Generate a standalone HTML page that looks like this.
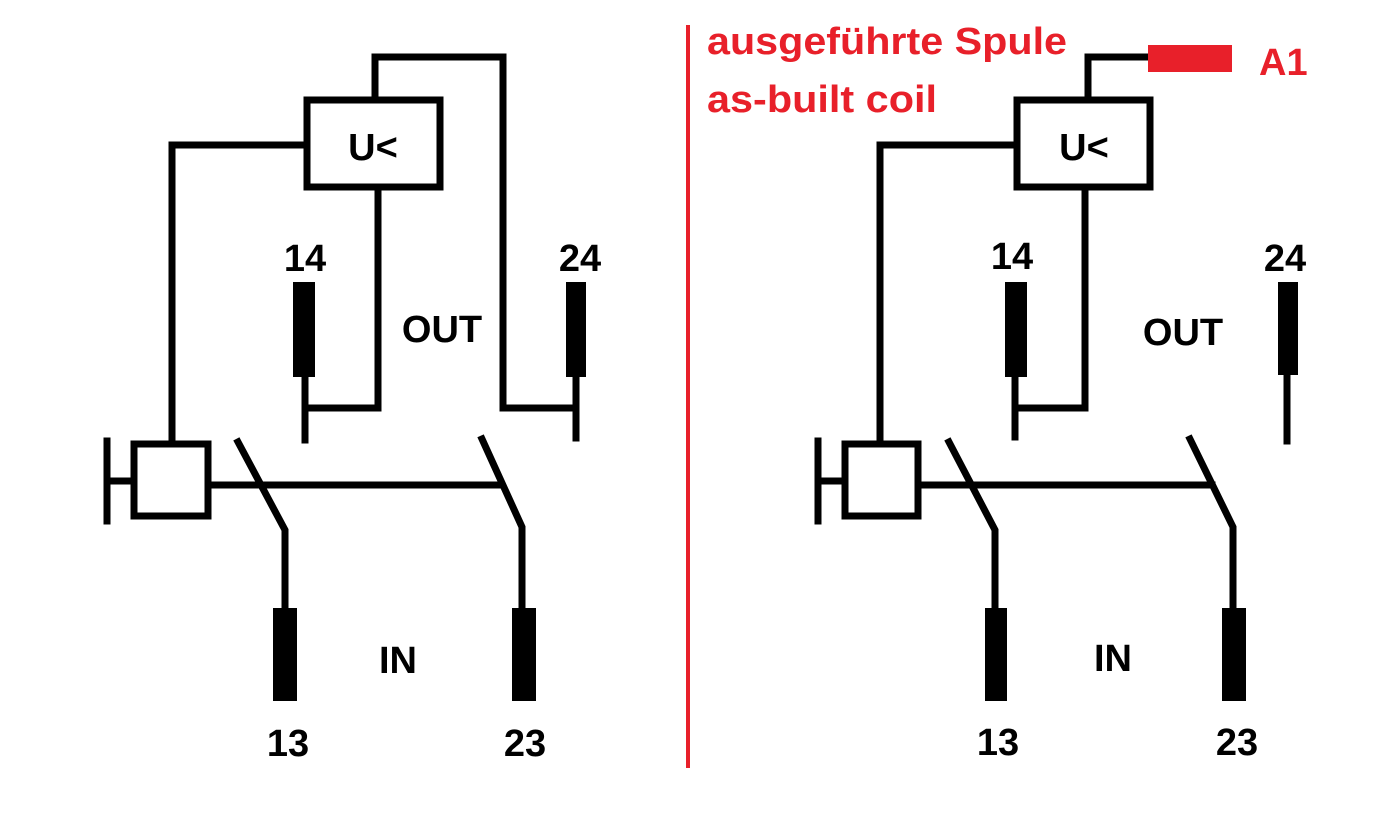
<!DOCTYPE html>
<html><head><meta charset="utf-8"><style>
html,body{margin:0;padding:0;background:#fff;}
svg{display:block;}
text{font-family:"Liberation Sans",sans-serif;font-weight:bold;}
</style></head><body>
<svg width="1393" height="817" viewBox="0 0 1393 817" xmlns="http://www.w3.org/2000/svg">
<rect width="1393" height="817" fill="#fff"/>
<g fill="none" stroke="#000" stroke-width="7" stroke-linecap="square">
<rect x="307" y="100" width="133" height="87"/>
<polyline points="375,100 375,57 503,57 503,408 575,408"/>
<polyline points="307,145 172,145 172,442"/>
<polyline points="378,187 378,408 307,408"/>
<line x1="305" y1="377" x2="305" y2="440"/>
<line x1="576" y1="377" x2="576" y2="438"/>
<rect x="134" y="444" width="74" height="72"/>
<line x1="107" y1="441" x2="107" y2="521"/>
<line x1="107" y1="481" x2="134" y2="481"/>
<line x1="208" y1="485" x2="500" y2="485"/>
<polyline points="238,442 285,530 285,610"/>
<polyline points="482,439 522,527 522,610"/>
<rect x="1017" y="100" width="133" height="87"/>
<polyline points="1088,100 1088,57 1150,57"/>
<polyline points="1017,145 880,145 880,442"/>
<polyline points="1085,187 1085,408 1015,408"/>
<line x1="1015" y1="377" x2="1015" y2="437"/>
<line x1="1287" y1="375" x2="1287" y2="441"/>
<rect x="845" y="444" width="73" height="72"/>
<line x1="818" y1="441" x2="818" y2="521"/>
<line x1="818" y1="481" x2="845" y2="481"/>
<line x1="918" y1="485" x2="1212" y2="485"/>
<polyline points="949,442 995,530 995,610"/>
<polyline points="1190,439 1233,527 1233,610"/>
</g>
<g fill="#000">
<rect x="293" y="282" width="22" height="95"/>
<rect x="566" y="282" width="20" height="95"/>
<rect x="273" y="608" width="24" height="93"/>
<rect x="512" y="608" width="24" height="93"/>
<rect x="1005" y="282" width="22" height="95"/>
<rect x="1278" y="282" width="20" height="93"/>
<rect x="985" y="608" width="22" height="93"/>
<rect x="1222" y="608" width="24" height="93"/>
</g>
<rect x="1148" y="45" width="84" height="27" fill="#e8202a"/>
<line x1="688" y1="25" x2="688" y2="768" stroke="#e8202a" stroke-width="4"/>
<g font-size="38" text-anchor="middle" fill="#000">
<text x="373" y="160">U&lt;</text>
<text x="1084" y="160">U&lt;</text>
<text x="305" y="271">14</text>
<text x="580" y="271">24</text>
<text x="442" y="342">OUT</text>
<text x="398" y="673">IN</text>
<text x="288" y="756">13</text>
<text x="525" y="756">23</text>
<text x="1012" y="269">14</text>
<text x="1285" y="271">24</text>
<text x="1183" y="345">OUT</text>
<text x="1113" y="671">IN</text>
<text x="998" y="755">13</text>
<text x="1237" y="755">23</text>
</g>
<g font-size="38" fill="#e8202a">
<text x="707" y="54" textLength="360" lengthAdjust="spacingAndGlyphs">ausgeführte Spule</text>
<text x="707" y="112" textLength="230" lengthAdjust="spacingAndGlyphs">as-built coil</text>
<text x="1259" y="75">A1</text>
</g>
</svg>
</body></html>
